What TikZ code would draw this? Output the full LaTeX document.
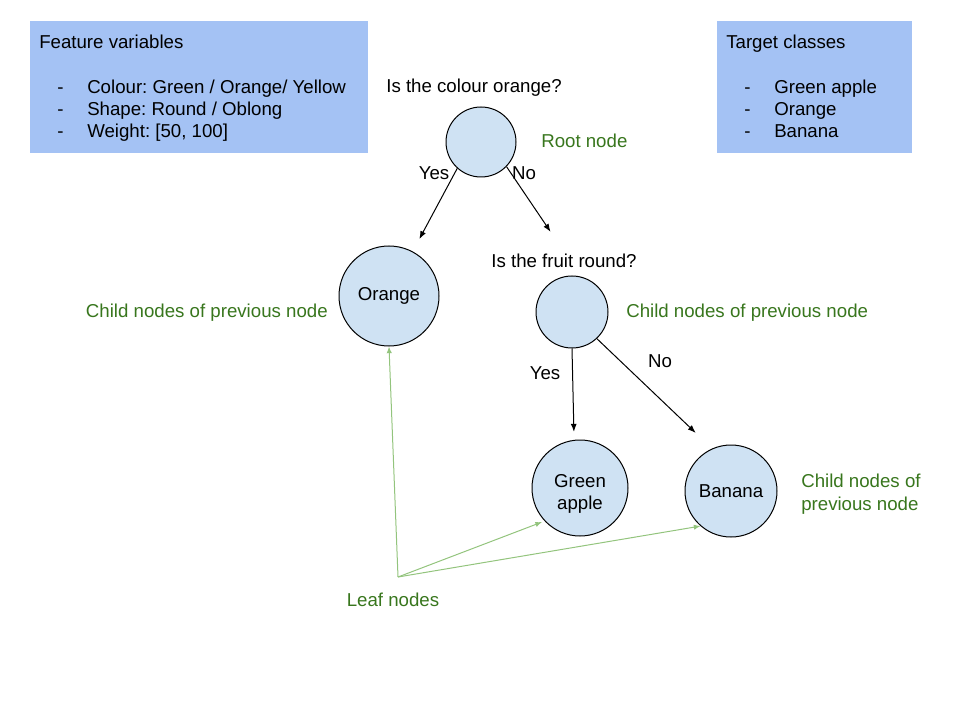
\documentclass[tikz,border=0pt]{standalone}
\usepackage{tikz}
\usetikzlibrary{arrows.meta}
\usepackage{fontspec}
\setmainfont{Liberation Sans}
\definecolor{boxblue}{RGB}{164,194,244}
\definecolor{nodeblue}{RGB}{207,226,243}
\definecolor{darkgreen}{RGB}{56,118,29}
\definecolor{lightgreen}{RGB}{147,196,125}

\begin{document}
\begin{tikzpicture}[x=0.75pt,y=0.75pt,yscale=-1,xscale=1,
    treenode/.style={draw=black,fill=nodeblue,circle,line width=0.75,inner sep=0pt,align=center},
    treearrow/.style={line width=0.75,-{Latex[length=6pt,width=4.5pt]}},
    leafarrow/.style={draw=lightgreen,line width=0.75,-{Latex[length=5pt,width=4pt]}},
    strut/.style={text height=12pt,text depth=3pt},
    note/.style={text=darkgreen,inner sep=0pt,align=left},
    txt/.style={inner sep=0pt,align=left}]
\fontsize{14}{17}\selectfont\frenchspacing
\useasboundingbox (0,0) rectangle (960,720);

%Shape: Rectangle [feature variables]
\draw [fill=boxblue,draw=none] (30,21) rectangle (368,153);
%Shape: Rectangle [target classes]
\draw [fill=boxblue,draw=none] (717,21) rectangle (912,153);

% Text Node
\draw (39,49) node [txt,anchor=base west] (feat) {Feature variables};
\draw (57,94) node [txt,anchor=base west] (fdasha) {-};
\draw (57,116) node [txt,anchor=base west] (fdashb) {-};
\draw (57,138) node [txt,anchor=base west] (fdashc) {-};
\draw (87,94) node [txt,anchor=base west] (colour) {Colour: Green / Orange/ Yellow};
\draw (87,116) node [txt,anchor=base west] (shape) {Shape: Round / Oblong};
\draw (87,138) node [txt,anchor=base west] (weight) {Weight: [50, 100]};

% Text Node
\draw (726,49) node [txt,anchor=base west] (target) {Target classes};
\draw (744,94) node [txt,anchor=base west] (tdasha) {-};
\draw (744,116) node [txt,anchor=base west] (tdashb) {-};
\draw (744,138) node [txt,anchor=base west] (tdashc) {-};
\draw (774,94) node [txt,anchor=base west] (tapple) {Green apple};
\draw (774,116) node [txt,anchor=base west] (torange) {Orange};
\draw (774,138) node [txt,anchor=base west] (tbanana) {Banana};

%Shape: Circle
\draw (481,142) node [treenode,minimum size=52.5pt] (root) {};
\draw (389,296) node [treenode,minimum size=75pt] (orange) {Orange};
\draw (572,312) node [treenode,minimum size=54pt] (round) {};
\draw (580,488) node [treenode,minimum size=72pt,
    label={[align=center,inner sep=0pt,yshift=-4.5pt]center:Green\\[-0.5pt]apple}] (apple) {};
\draw (731,491) node [treenode,minimum size=69pt] (banana) {Banana};

% Text Node
\draw (474,87) node [txt,strut] (qcolour) {Is the colour orange?};
\draw (564,262) node [txt,strut] (qround) {Is the fruit round?};
\draw (434,174) node [txt,strut] (yesa) {Yes};
\draw (524,174) node [txt,strut] (noa) {No};
\draw (545,373) node [txt,strut] (yesb) {Yes};
\draw (660,361) node [txt,strut] (nob) {No};

% Text Node
\draw (541,142) node [note,strut,anchor=west] (rootlbl) {Root node};
\draw (328,311) node [note,strut,anchor=east] (childl) {Child nodes of previous node};
\draw (626,311) node [note,strut,anchor=west] (childr) {Child nodes of previous node};
\draw (801,494) node [note,anchor=west] (childb) {Child nodes of\\previous node};
\draw (393,600) node [note,strut] (leaf) {Leaf nodes};

%Straight Lines
\draw [treearrow,shorten >=10.5pt] (root.228) -- (orange.62);
\draw [treearrow,shorten >=40.5pt] (root.-44) -- (round.76);
\draw [treearrow,shorten >=6pt] (round.south) -- (apple.97);
\draw [treearrow,shorten >=17pt] (round.-47) -- (banana.114);

%Straight Lines
\coordinate (leafpt) at (398,577);
\draw [leafarrow] (leafpt) -- (orange.south);
\draw [leafarrow,shorten >=2pt] (leafpt) -- (apple.223);
\draw [leafarrow] (leafpt) -- (banana.229);

\end{tikzpicture}
\end{document}
